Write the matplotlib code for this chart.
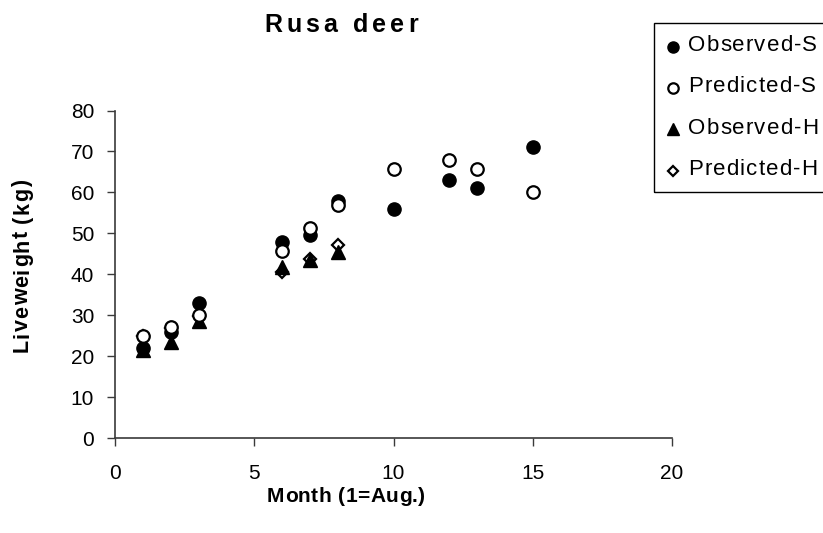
import matplotlib
matplotlib.use("Agg")
import matplotlib.pyplot as plt
from matplotlib.lines import Line2D
from matplotlib.patches import Rectangle
import numpy as np

plt.rcParams['font.family'] = ['Liberation Sans', 'DejaVu Sans']

### data
month_s = [1, 2, 3, 6, 7, 8, 10, 12, 13, 15]
observed_s = [22, 26, 33, 48, 49.5, 58, 56, 63, 61, 71]
predicted_s = [25, 27, 30, 45.7, 51.3, 57, 65.8, 67.8, 65.8, 60]

month_h = [1, 2, 3, 6, 7, 8]
observed_h = [21.5, 23.5, 28.5, 41.8, 43.6, 45.4]
predicted_h = [25, 26.8, 29.8, 40.6, 43.8, 47.1]

series_names = ["Observed-S", "Predicted-S", "Observed-H", "Predicted-H"]

W, H = 823, 533
fig = plt.figure(figsize=(W/100, H/100), dpi=100)
ax = fig.add_axes([115/W, 1-438/H, (672-115)/W, (438-110.5)/H])
renderer = fig.canvas.get_renderer()

styles = [
	dict(marker='o', ms=9.5, mfc='black', mec='black', zorder=3),
	dict(marker='o', ms=9, mfc='white', mec='black', mew=1.6, zorder=4),
	dict(marker='^', ms=9.5, mfc='black', mec='black', zorder=3),
	dict(marker='D', ms=6.5, mfc='white', mec='black', mew=1.6, zorder=2),
]
xs = [month_s, month_s, month_h, month_h]
ys = [observed_s, predicted_s, observed_h, predicted_h]
for x, y, st in zip(xs, ys, styles):
	ax.plot(x, y, ls='none', **st)

ax.set_xlim(0, 20)
ax.set_ylim(0, 80)
ax.set_xticks(np.arange(0, 21, 5))
ax.set_yticks(np.arange(0, 81, 10))
ax.spines['top'].set_visible(False)
ax.spines['right'].set_visible(False)
for s in ['left', 'bottom']:
	ax.spines[s].set_color('#3a3a3a')
	ax.spines[s].set_linewidth(1.2)
ax.tick_params(direction='out', length=6, width=1, color='#3a3a3a', labelsize=15)
ax.tick_params(axis='x', pad=13)
ax.tick_params(axis='y', pad=9)


### letter-spaced text (the original has wide tracking)
def txt_width(s, size, weight):
	t = fig.text(0, 0, s, fontsize=size, fontweight=weight)
	w = t.get_window_extent(renderer).width
	t.remove()
	return w

def spaced_text(x0, y0, s, size, target=None, extra=None, weight='normal', rotation=0, center=True):
	# x0, y0 in pixels from top-left; y0 (or x0 when rotated) is the baseline
	bar = txt_width("|", size, weight)
	offs = [txt_width(s[:i] + "|", size, weight) - bar for i in range(len(s) + 1)]
	natural = offs[-1]
	if extra is None:
		extra = max(0, (target - natural) / (len(s) - 1))
	total = natural + extra * (len(s) - 1)
	for i, c in enumerate(s):
		if c == ' ':
			continue
		o = offs[i] + i * extra
		if rotation == 0:
			start = x0 - total / 2 if center else x0
			fig.text((start + o) / W, 1 - y0 / H, c, fontsize=size, fontweight=weight,
				ha='left', va='baseline')
		else:
			start = y0 + total / 2 if center else y0
			fig.text(x0 / W, 1 - (start - o) / H, c, fontsize=size, fontweight=weight,
				ha='left', va='baseline', rotation=90, rotation_mode='anchor')
	return extra

spaced_text(341, 32, "Rusa deer", 18, target=154, weight='bold')
spaced_text(346, 502, "Month (1=Aug.)", 15, target=158, weight='bold')
spaced_text(28, 266, "Liveweight (kg)", 15.5, target=172, weight='bold', rotation=90)

### legend, drawn by hand: the box runs off the right edge in the original
fig.add_artist(Rectangle((654/W, 1-191.7/H), (W+5-654)/W, (191.7-22.7)/H, transform=fig.transFigure,
	fill=False, edgecolor='black', lw=1.0, clip_on=False))
row_y = [46.5, 87.5, 129, 170.5]
leg_ms = [8, 7.5, 8, 5.5]
extra = None
for name, st, yy, ms in zip(series_names, styles, row_y, leg_ms):
	st2 = dict(st)
	st2['ms'] = ms
	st2.pop('zorder')
	fig.add_artist(Line2D([673/W], [1-yy/H], transform=fig.transFigure, ls='none', **st2))
	if extra is None:
		extra = spaced_text(688, yy + 4.5, name, 16, target=129, center=False)
	else:
		spaced_text(688, yy + 4.5, name, 16, extra=extra, center=False)

fig.savefig("out.png", dpi=100)
